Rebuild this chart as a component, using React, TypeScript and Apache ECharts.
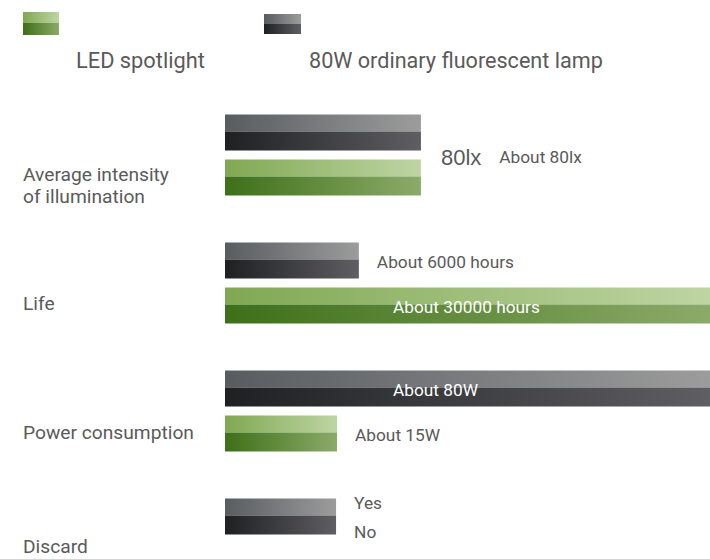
import React, { useEffect, useRef } from 'react';
import * as echarts from 'echarts';

// ---------- data ----------
const categories = ['Average intensity\nof illumination', 'Life', 'Power consumption', 'Discard'];
const seriesNames = ['LED spotlight', '80W ordinary fluorescent lamp'];
// relative bar lengths on a 0–100 display scale
const fluorescentLength = [40.4, 27.6, 100, 22.9];
const ledLength = [40.4, 100, 23.1, 0];
const fluorescentLabels = ['80lx', 'About 6000 hours', 'About 80W', 'Yes\nNo'];
const ledLabels = ['About 80lx', 'About 30000 hours', 'About 15W', ''];

// ---------- styles ----------
const GRAY = { top: ['#585c60', '#9c9c9c'], bottom: ['#1e2022', '#5f5e62'] };
const GREEN = { top: ['#80a852', '#bed5a3'], bottom: ['#3e6f19', '#8bab68'] };
const FONT = 'Roboto, "Liberation Sans", sans-serif';
const TEXT = '#5a5a5a';
const BAR_H = 36;
const BAR_GAP = 9;
const SPLIT = 17;
const catLabelNudge = [30, 20, 21, 7];

function hGrad(c: string[]) {
  return new echarts.graphic.LinearGradient(0, 0, 1, 0, [
    { offset: 0, color: c[0] },
    { offset: 1, color: c[1] },
  ]);
}

function splitBar(x: number, y: number, w: number, h: number, split: number, pal: any) {
  return [
    { type: 'rect', shape: { x, y, width: w, height: split }, style: { fill: hGrad(pal.top) } },
    { type: 'rect', shape: { x, y: y + split, width: w, height: h - split }, style: { fill: hGrad(pal.bottom) } },
  ];
}

function barRenderer(isLed: boolean) {
  const pal = isLed ? GREEN : GRAY;
  const labels = isLed ? ledLabels : fluorescentLabels;
  return (params: any, api: any) => {
    const i = params.dataIndex;
    const v = api.value(0);
    const c = api.value(1);
    const p0 = api.coord([0, c]);
    const p1 = api.coord([v, c]);
    const cy = p0[1] + (isLed ? 1 : -1) * (BAR_H + BAR_GAP) / 2;
    const top = cy - BAR_H / 2;
    const w = p1[0] - p0[0];
    const children: any[] = w > 0 ? splitBar(p0[0], top, w, BAR_H, SPLIT, pal) : [];
    const other = isLed ? fluorescentLength[i] : ledLength[i];
    const text = labels[i];
    if (v === other) {
      // equal bars share one label placed between them
      if (!isLed) {
        children.push({
          type: 'text',
          x: p1[0] + 20,
          y: p0[1] + 2,
          style: {
            text: `{big|${fluorescentLabels[i]}}{gap|}{small|${ledLabels[i]}}`,
            verticalAlign: 'middle',
            rich: {
              big: { fontFamily: '"Liberation Sans", Arial, sans-serif', fontSize: 22, fill: TEXT },
              gap: { width: 18 },
              small: { fontFamily: FONT, fontSize: 17.3, fill: TEXT },
            },
          },
        });
      }
    } else if (text) {
      const inside = v >= 90;
      children.push({
        type: 'text',
        x: inside ? p0[0] + 168 : p1[0] + 18,
        y: cy + 1,
        style: {
          text,
          fill: inside ? '#ffffff' : TEXT,
          fontFamily: FONT,
          fontSize: 17.3,
          lineHeight: 29,
          align: 'left',
          verticalAlign: 'middle',
        },
      });
    }
    return { type: 'group', children };
  };
}

function categoryLabelRenderer(params: any, api: any) {
  const i = params.dataIndex;
  const p = api.coord([0, api.value(1)]);
  return {
    type: 'text',
    x: p[0] - 202,
    y: p[1] + catLabelNudge[i],
    style: {
      text: categories[i],
      fill: TEXT,
      fontFamily: FONT,
      fontSize: 19.2,
      lineHeight: 22,
      align: 'left',
      verticalAlign: 'middle',
    },
  };
}

export default function App() {
  const ref = useRef<HTMLDivElement>(null);
  useEffect(() => {
    if (!ref.current) return;
    const chart = echarts.init(ref.current, null, { renderer: 'svg' });
    chart.setOption({
      animation: false,
      backgroundColor: '#ffffff',
      grid: { left: 225, right: 0, top: 91, height: 512, outerBoundsMode: 'none', containLabel: false },
      xAxis: { type: 'value', min: 0, max: 100, show: false },
      yAxis: { type: 'category', inverse: true, data: categories, show: false },
      graphic: [
        ...splitBar(23, 12, 36, 23, 11, GREEN),
        { type: 'text', x: 76, y: 60, style: { text: seriesNames[0], fontFamily: FONT, fontSize: 21.8, fill: TEXT, verticalAlign: 'middle' } },
        ...splitBar(264, 14, 37, 20, 10, GRAY),
        { type: 'text', x: 309, y: 60, style: { text: seriesNames[1], fontFamily: FONT, fontSize: 21.6, fill: TEXT, verticalAlign: 'middle' } },
      ],
      series: [
        {
          name: seriesNames[1],
          type: 'custom',
          renderItem: barRenderer(false),
          encode: { x: 0, y: 1 },
          data: fluorescentLength.map((v, i) => [v, i]),
        },
        {
          name: seriesNames[0],
          type: 'custom',
          renderItem: barRenderer(true),
          encode: { x: 0, y: 1 },
          data: ledLength.map((v, i) => [v, i]),
        },
        {
          name: 'categories',
          type: 'custom',
          renderItem: categoryLabelRenderer,
          encode: { x: 0, y: 1 },
          data: categories.map((_, i) => [0, i]),
        },
      ],
    });
    return () => chart.dispose();
  }, []);
  return <div ref={ref} style={{ position: 'fixed', left: 0, top: 0, width: 710, height: 559 }} />;
}
